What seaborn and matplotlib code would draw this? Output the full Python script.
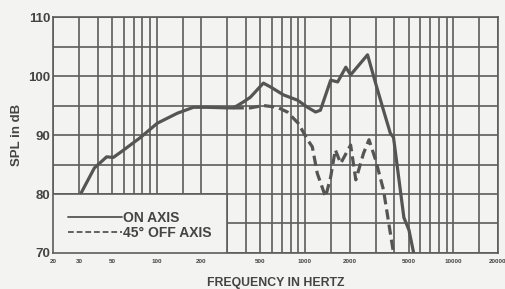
import matplotlib
matplotlib.use("Agg")
import matplotlib.pyplot as plt
import matplotlib.patches as mpatches
import pandas as pd
import seaborn as sns

# on-axis response
on_freq = [31, 38, 46, 51, 58, 77, 101, 138, 177, 219, 300, 330, 384, 428, 524,
           590, 716, 891, 1040, 1178, 1270, 1490, 1660, 1884, 2030, 2640, 2990,
           3380, 3760, 3950, 4640, 5020, 5400]
on_db = [80.2, 84.4, 86.3, 86.2, 87.2, 89.5, 92.0, 93.7, 94.7, 94.7, 94.6, 94.6,
         95.6, 96.4, 98.8, 98.1, 96.8, 95.9, 94.7, 93.9, 94.2, 99.3, 99.0, 101.5,
         100.2, 103.6, 98.8, 94.2, 90.3, 89.6, 76.0, 73.9, 70.0]

# 45 degree off-axis response
off_freq = [330, 428, 524, 652, 760, 900, 1040, 1120, 1210, 1376, 1490, 1600,
            1740, 2030, 2200, 2480, 2700, 2990, 3380, 3950]
off_db = [94.6, 94.6, 95.0, 94.7, 93.9, 92.0, 89.2, 88.0, 83.5, 79.5, 82.9, 87.5,
          85.2, 88.3, 82.4, 86.9, 89.2, 85.8, 80.7, 70.0]

grid_freqs = [20, 30, 40, 50, 60, 70, 80, 90, 100, 150, 200, 300, 400, 500, 600,
              700, 800, 900, 1000, 1500, 2000, 3000, 4000, 5000, 6000, 7000, 8000,
              9000, 10000, 15000, 20000]
freq_labels = {20: "20", 30: "30", 50: "50", 100: "100", 200: "200", 500: "500",
               1000: "1000", 2000: "2000", 5000: "5000", 10000: "10000",
               20000: "20000"}
db_grid = [70, 75, 80, 85, 90, 95, 100, 105, 110]
db_labels = [70, 80, 90, 100, 110]

sns.set_theme(style="white")
plt.rcParams["font.family"] = ["Liberation Sans", "DejaVu Sans"]

ink = "#555555"
text_c = "#444444"
grid_c = "#5c5c5c"
paper = "#f3f3f1"

fig = plt.figure(figsize=(5.06, 2.89), dpi=100, facecolor=paper)
ax = fig.add_axes([0.1047, 0.1246, 0.8795, 0.8164])
ax.set_facecolor(paper)

on = pd.DataFrame({"f": on_freq, "db": on_db})
off = pd.DataFrame({"f": off_freq, "db": off_db})
sns.lineplot(data=on, x="f", y="db", ax=ax, color=ink, lw=2.3, zorder=5,
             label="ON AXIS")
sns.lineplot(data=off, x="f", y="db", ax=ax, color=ink, lw=2.3, zorder=5,
             label="45° OFF AXIS", linestyle=(0, (3.2, 1.6)))

ax.set_xscale("log")
ax.set_xlim(20, 20000)
ax.set_ylim(70, 110)

ax.set_xticks(grid_freqs)
ax.set_xticklabels([freq_labels.get(f, "") for f in grid_freqs],
                   fontsize=4.5, fontweight="bold", color=text_c)
ax.xaxis.set_minor_locator(matplotlib.ticker.NullLocator())
ax.set_yticks(db_grid)
ax.set_yticklabels([str(d) if d in db_labels else "" for d in db_grid],
                   fontsize=9.5, fontweight="bold", color=text_c)
ax.tick_params(length=0, pad=2)
ax.tick_params(axis="x", pad=4)
ax.grid(True, color=grid_c, lw=1.2)
ax.set_axisbelow(True)
for s in ax.spines.values():
    s.set_color(grid_c)
    s.set_linewidth(1.2)

# blank area behind the legend
ax.add_patch(mpatches.Rectangle((20, 70), 280, 10, facecolor=paper,
                                edgecolor="none", zorder=2))
ax.plot([300, 300], [70, 80], color=grid_c, lw=1.2, zorder=3)
ax.plot([20, 300], [80, 80], color=grid_c, lw=1.2, zorder=3)

leg = ax.legend(loc="lower left", bbox_to_anchor=(0.015, 0.02), frameon=False,
                prop={"weight": "bold", "size": 10}, handlelength=3.9,
                handletextpad=0.05, labelspacing=0.1, borderaxespad=0.2)
for t in leg.get_texts():
    t.set_color(text_c)
for h in leg.get_lines():
    h.set_linewidth(1.3)

ax.set_xlabel("FREQUENCY IN HERTZ", fontsize=8.8, fontweight="bold",
              color=text_c, labelpad=10)
ax.set_ylabel("SPL in dB", fontsize=9.5, fontweight="bold", color=text_c)
ax.yaxis.set_label_coords(-0.068, 0.5)

fig.savefig("out.png", dpi=100, facecolor=paper)
